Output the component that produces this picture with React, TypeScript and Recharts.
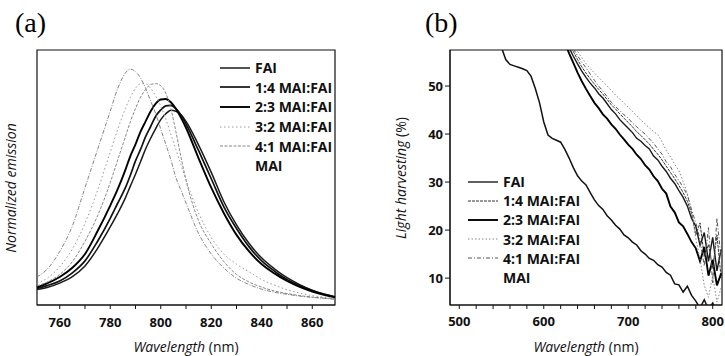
import React from "react";
import { LineChart, Line, XAxis, YAxis, ReferenceArea, Legend, Label } from "recharts";

// (a) normalized PL emission, wavelength in nm
const WL_A = [751, 755, 760, 765, 770, 775, 780, 783, 786, 788, 790, 792, 794, 796, 798, 800, 802, 804, 806, 808, 810, 815, 820, 825, 830, 835, 840, 845, 850, 855, 860, 865, 869];
const FAI_A = [0.061, 0.069, 0.086, 0.111, 0.153, 0.222, 0.306, 0.36, 0.42, 0.467, 0.513, 0.562, 0.612, 0.654, 0.692, 0.727, 0.75, 0.764, 0.76, 0.746, 0.72, 0.627, 0.52, 0.405, 0.314, 0.241, 0.184, 0.142, 0.107, 0.08, 0.058, 0.042, 0.032];
const R14_A = [0.065, 0.076, 0.094, 0.126, 0.173, 0.25, 0.34, 0.4, 0.46, 0.51, 0.565, 0.61, 0.66, 0.7, 0.74, 0.765, 0.781, 0.783, 0.77, 0.745, 0.71, 0.605, 0.495, 0.385, 0.3, 0.228, 0.173, 0.133, 0.1, 0.076, 0.056, 0.041, 0.031];
const R23_A = [0.07, 0.085, 0.11, 0.146, 0.2, 0.29, 0.39, 0.455, 0.53, 0.585, 0.63, 0.68, 0.72, 0.76, 0.79, 0.806, 0.808, 0.795, 0.77, 0.735, 0.695, 0.575, 0.46, 0.36, 0.275, 0.21, 0.16, 0.124, 0.094, 0.071, 0.053, 0.039, 0.03];
const R32_A = [0.085, 0.105, 0.15, 0.22, 0.32, 0.45, 0.6, 0.69, 0.77, 0.815, 0.85, 0.868, 0.868, 0.85, 0.82, 0.78, 0.73, 0.67, 0.61, 0.55, 0.49, 0.36, 0.265, 0.2, 0.16, 0.13, 0.1, 0.078, 0.06, 0.047, 0.037, 0.03, 0.025];
const R41_A = [0.075, 0.09, 0.12, 0.17, 0.25, 0.35, 0.48, 0.57, 0.66, 0.72, 0.77, 0.815, 0.845, 0.865, 0.868, 0.86, 0.83, 0.77, 0.68, 0.58, 0.49, 0.33, 0.24, 0.17, 0.12, 0.09, 0.07, 0.055, 0.045, 0.037, 0.031, 0.027, 0.023];
const MAI_A = [0.11, 0.14, 0.21, 0.31, 0.46, 0.61, 0.76, 0.85, 0.91, 0.925, 0.915, 0.89, 0.85, 0.8, 0.75, 0.69, 0.63, 0.57, 0.5, 0.45, 0.4, 0.28, 0.2, 0.145, 0.105, 0.08, 0.062, 0.05, 0.042, 0.035, 0.03, 0.026, 0.022];
const TICKS_A = [760, 770, 780, 790, 800, 810, 820, 830, 840, 850, 860];

// (b) light harvesting (%), wavelength in nm
const WL_B = [540, 545, 550, 555, 560, 565, 570, 575, 580, 585, 590, 595, 600, 605, 610, 615, 620, 625, 630, 635, 640, 645, 650, 655, 660, 665, 670, 675, 680, 685, 690, 695, 700, 705, 710, 715, 720, 725, 730, 735, 740, 745, 750, 755, 760, 765, 770, 775, 780, 785, 790, 795, 800, 805, 810];
const MAI_B = [62, 60, 58, 55.5, 54.5, 54.2, 53.9, 53.6, 53.2, 52, 49.5, 46.5, 42.5, 39.8, 39.1, 38.7, 38.3, 36.8, 35, 33, 31.3, 30.2, 29.4, 27.8, 26.3, 25.1, 24.3, 23, 22.1, 21, 20.2, 19, 18.4, 17.5, 16.9, 15.7, 15, 14.1, 13.7, 12.8, 12.3, 11.2, 10.6, 8.8, 8.6, 7.1, 8.3, 6.4, 5.2, 3.8, 5.5, 3.5, 4.8, 3, 4];
const R23_B = [null, null, null, null, null, null, null, null, null, null, null, null, null, null, null, null, 61.5, 59, 56.8, 54.8, 52.8, 51, 49.4, 47.9, 46.5, 45.4, 44.1, 43.2, 42, 41.1, 39.9, 38.9, 37.8, 36.9, 35.7, 34.8, 33.5, 32.6, 31.2, 30.2, 28.6, 27.6, 24.9, 23.7, 21.6, 20.8, 19.2, 17.5, 16.2, 13.5, 16.5, 10.5, 13.8, 8.5, 11];
const FAI_B = [null, null, null, null, null, null, null, null, null, null, null, null, null, null, null, null, 62, 60, 58, 56.2, 54.6, 53.1, 51.8, 50.6, 49.6, 48.4, 47.5, 46.3, 45.1, 44.2, 43, 42.1, 41.2, 40.3, 39.1, 38.5, 37.6, 36.9, 35.4, 34.6, 33.3, 32.2, 30.8, 29.7, 28.2, 26.8, 25, 22.4, 20.8, 16.8, 19.5, 13.5, 18.5, 11.5, 16];
const R14_B = [null, null, null, null, null, null, null, null, null, null, null, null, null, null, null, null, 62.5, 60.8, 59, 57.2, 55.5, 54, 52.7, 51.5, 50.4, 49.3, 48.3, 47.2, 46.1, 45.2, 44.2, 43.3, 42.4, 41.5, 40.5, 39.7, 38.8, 37.9, 36.8, 35.8, 34.6, 33.3, 32, 30.7, 29.3, 27.8, 26, 23.5, 19, 21.5, 14.5, 17, 12, 19, 10];
const R41_B = [null, null, null, null, null, null, null, null, null, null, null, null, null, null, null, null, null, 61, 59.3, 57.8, 56.3, 55, 53.8, 52.5, 51.2, 50, 48.9, 47.8, 46.6, 45.7, 44.9, 44, 43.3, 42.3, 41.5, 40.7, 40, 39, 38.1, 36.9, 35.8, 34.2, 33.2, 31.6, 30.3, 28.9, 27.3, 24.2, 21.5, 18, 12.5, 20.5, 9, 22.5, 14];
const R32_B = [null, null, null, null, null, null, null, null, null, null, null, null, null, null, null, null, null, 61.5, 60, 58.6, 57.2, 55.9, 54.7, 53.6, 52.7, 51.8, 50.9, 50, 49.1, 48.1, 47.3, 46.4, 45.6, 44.7, 43.8, 42.9, 42.1, 41.3, 40.5, 39.9, 38.4, 36.6, 35.3, 33.7, 32.4, 30.1, 27.6, 23.8, 18.2, 14, 8.5, 6, 10.5, 5, 8];
const TICKS_BX = [500, 520, 540, 560, 580, 600, 620, 640, 660, 680, 700, 720, 740, 760, 780, 800];
const TICKS_BY = [10, 20, 30, 40, 50];

const NAMES = ["FAI", "1:4 MAI:FAI", "2:3 MAI:FAI", "3:2 MAI:FAI", "4:1 MAI:FAI", "MAI"];

const FONT = "'Open Sans', 'Liberation Sans', sans-serif";
const INK = "#111";

type Sty = { key: string; name: string; stroke: string; width: number; dash?: string; sample: boolean };

const STYLE_A: Sty[] = [
  { key: "fai", name: NAMES[0], stroke: "#1a1a1a", width: 1.5, sample: true },
  { key: "r14", name: NAMES[1], stroke: "#111", width: 1.7, sample: true },
  { key: "r23", name: NAMES[2], stroke: "#000", width: 1.9, sample: true },
  { key: "r32", name: NAMES[3], stroke: "#999", width: 1, dash: "1.5 2.5", sample: true },
  { key: "r41", name: NAMES[4], stroke: "#888", width: 1, dash: "3 1.5", sample: true },
  { key: "mai", name: NAMES[5], stroke: "#777", width: 0.9, dash: "4 1.5 1 1.5", sample: false },
];

const STYLE_B: Sty[] = [
  { key: "fai", name: NAMES[0], stroke: "#1a1a1a", width: 1.4, sample: true },
  { key: "r14", name: NAMES[1], stroke: "#333", width: 1, dash: "3 1", sample: true },
  { key: "r23", name: NAMES[2], stroke: "#000", width: 1.9, sample: true },
  { key: "r32", name: NAMES[3], stroke: "#888", width: 1, dash: "1.5 2", sample: true },
  { key: "r41", name: NAMES[4], stroke: "#555", width: 1, dash: "4 2 1 2", sample: true },
  { key: "mai", name: NAMES[5], stroke: "#111", width: 1.5, sample: false },
];

const dataA = WL_A.map((wl, i) => ({
  wl,
  fai: FAI_A[i],
  r14: R14_A[i],
  r23: R23_A[i],
  r32: R32_A[i],
  r41: R41_A[i],
  mai: MAI_A[i],
}));

const dataB = WL_B.map((wl, i) => ({
  wl,
  fai: FAI_B[i],
  r14: R14_B[i],
  r23: R23_B[i],
  r32: R32_B[i],
  r41: R41_B[i],
  mai: MAI_B[i],
}));

function LegendBox({ styles, rowH }: { styles: Sty[]; rowH: number }) {
  return (
    <div style={{ fontFamily: FONT, fontWeight: 700, fontSize: 14, color: INK }}>
      {styles.map((s) => (
        <div key={s.key} style={{ display: "flex", alignItems: "center", height: rowH, whiteSpace: "nowrap" }}>
          <svg width={30} height={6} style={{ marginRight: 5 }}>
            {s.sample && (
              <line x1={0} y1={3} x2={30} y2={3} stroke={s.stroke} strokeWidth={s.width} strokeDasharray={s.dash} />
            )}
          </svg>
          <span>{s.name}</span>
        </div>
      ))}
    </div>
  );
}

const tickStyle = { fill: INK, fontSize: 13, fontFamily: FONT, fontWeight: 700 };

export default function App() {
  return (
    <div style={{ position: "fixed", left: 0, top: 0, width: 725, height: 356, background: "#fff" }}>
      <div style={{ position: "absolute", left: 15, top: 9, fontFamily: "'Liberation Serif', serif", fontSize: 28, lineHeight: 1 }}>(a)</div>
      <div style={{ position: "absolute", left: 425, top: 9, fontFamily: "'Liberation Serif', serif", fontSize: 28, lineHeight: 1 }}>(b)</div>

      <div style={{ position: "absolute", left: 0, top: 0 }}>
        <LineChart width={362} height={356} data={dataA} margin={{ top: 50, right: 27, left: 7, bottom: 21 }}>
          <XAxis
            dataKey="wl"
            type="number"
            domain={[751, 869]}
            ticks={TICKS_A}
            interval={0}
            tickFormatter={(v: number) => (v % 20 === 0 ? String(v) : "")}
            tick={tickStyle}
            tickSize={4}
            tickMargin={9}
            height={30}
            stroke={INK}
          >
            <Label
              content={() => (
                <text x={186} y={352} textAnchor="middle" fontSize={14} fontFamily={FONT} fill={INK}>
                  <tspan fontStyle="italic">Wavelength</tspan> (nm)
                </text>
              )}
            />
          </XAxis>
          <YAxis domain={[0, 1]} tick={false} axisLine={false} tickLine={false} width={30}>
            <Label
              content={() => (
                <text transform="translate(16,188) rotate(-90)" textAnchor="middle" fontSize={14} fontStyle="italic" fontFamily={FONT} fill={INK}>
                  Normalized emission
                </text>
              )}
            />
          </YAxis>
          <ReferenceArea x1={751} x2={869} y1={0} y2={1} fill="none" stroke={INK} strokeWidth={1.2} ifOverflow="visible" />
          {STYLE_A.map((s) => (
            <Line
              key={s.key}
              dataKey={s.key}
              name={s.name}
              type="monotone"
              stroke={s.stroke}
              strokeWidth={s.width}
              strokeDasharray={s.dash}
              dot={false}
              isAnimationActive={false}
            />
          ))}
          <Legend
            layout="vertical"
            align="center"
            verticalAlign="middle"
            wrapperStyle={{ left: 220, top: 58, width: 140 }}
            content={() => <LegendBox styles={STYLE_A} rowH={19.6} />}
          />
        </LineChart>
      </div>

      <div style={{ position: "absolute", left: 362, top: 0 }}>
        <LineChart width={363} height={356} data={dataB} margin={{ top: 50, right: 3, left: 48, bottom: 21 }}>
          <XAxis
            dataKey="wl"
            type="number"
            domain={[489, 811]}
            allowDataOverflow
            ticks={TICKS_BX}
            interval={0}
            tickFormatter={(v: number) => (v % 100 === 0 ? String(v) : "")}
            tick={tickStyle}
            tickSize={4}
            tickMargin={8}
            height={30}
            stroke={INK}
          >
            <Label
              content={() => (
                <text x={224} y={352} textAnchor="middle" fontSize={14} fontFamily={FONT} fill={INK}>
                  <tspan fontStyle="italic">Wavelength</tspan> (nm)
                </text>
              )}
            />
          </XAxis>
          <YAxis
            domain={[4.4, 57.5]}
            allowDataOverflow
            ticks={TICKS_BY}
            interval={0}
            tick={tickStyle}
            tickSize={5}
            tickMargin={2}
            width={40}
            stroke={INK}
          >
            <Label
              content={() => (
                <text transform="translate(44,178) rotate(-90)" textAnchor="middle" fontSize={14} fontFamily={FONT} fill={INK}>
                  <tspan fontStyle="italic">Light harvesting</tspan> (%)
                </text>
              )}
            />
          </YAxis>
          <ReferenceArea x1={489} x2={811} y1={4.4} y2={57.5} fill="none" stroke={INK} strokeWidth={1.2} ifOverflow="visible" />
          {STYLE_B.map((s) => (
            <Line
              key={s.key}
              dataKey={s.key}
              name={s.name}
              type="linear"
              stroke={s.stroke}
              strokeWidth={s.width}
              strokeDasharray={s.dash}
              dot={false}
              isAnimationActive={false}
            />
          ))}
          <Legend
            layout="vertical"
            align="center"
            verticalAlign="middle"
            wrapperStyle={{ left: 106, top: 172, width: 140 }}
            content={() => <LegendBox styles={STYLE_B} rowH={19.2} />}
          />
        </LineChart>
      </div>
    </div>
  );
}
